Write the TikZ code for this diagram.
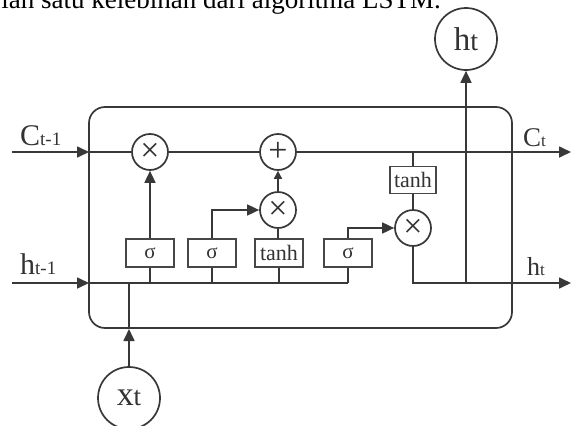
\documentclass[tikz,border=0pt]{standalone}
\usepackage{fontspec}
\setmainfont{Liberation Serif}
\usetikzlibrary{arrows.meta}
\newcommand\fs[1]{\fontsize{#1}{#1}\selectfont}
\begin{document}
\begin{tikzpicture}[x=1pt,y=-1pt,
  ln/.style={line width=1.7pt, draw=black!78},
  arr/.style={ln, -{Triangle[length=12pt,width=11pt]}},
  sarr/.style={ln, -{Triangle[length=8pt,width=8pt]}},
  op/.style={circle, ln, minimum size=36pt, inner sep=0pt, fill=white, font=\fs{34}, text=black!80},
  io/.style={circle, ln, minimum size=62pt, inner sep=0pt, fill=white, text=black!80},
  gate/.style={rectangle, draw=black!72, line width=1.3pt, minimum width=48pt, minimum height=28pt, inner sep=0pt, fill=white, text=black!80},
  lbl/.style={anchor=base west, inner sep=0pt, text=black!80},
]
\useasboundingbox (0,0) rectangle (571,426);
\clip (0,0) rectangle (571,426);
\node[anchor=base east, inner sep=0pt, font=\fs{27}] (cap) at (441,8.5) {lah satu kelebihan dari algoritma LSTM.};

% cell
\node[ln, rectangle, rounded corners=16pt, minimum width=423pt, minimum height=221pt, inner sep=0pt] (cell) at (300.5,217.5) {};

% operators
\node[op] (m1) at (150,152) {×};
\node[op] (pl) at (278,152) {+};
\node[op] (m2) at (278,210) {×};
\node[op] (m3) at (413,228) {×};

% gates
\node[gate, font=\fs{21}] (s1) at (150,253) {σ};
\node[gate, font=\fs{21}] (s2) at (212,253) {σ};
\node[gate, font=\fs{22}] (th) at (279,253) {tanh};
\node[gate, font=\fs{21}] (s3) at (348,253) {σ};
\node[gate, font=\fs{22}, minimum width=46pt, minimum height=27pt] (th2) at (413,180) {tanh};

% inputs / outputs
\node[io] (ht) at (466,39) {\fs{33}h{\fs{28}t}};
\node[io] (xt) at (129,398) {\fs{34}x{\fs{27}t}};

% coordinates
\coordinate (cin) at (12,152);
\coordinate (hin) at (12,283);
\coordinate (cout) at (571,152);
\coordinate (hout) at (571,283);
\coordinate (cl) at (89,152);
\coordinate (hl) at (89,283);
\coordinate (hr) at (348,283);
\coordinate (xb) at (129,329);
\coordinate (xh) at (129,283);
\coordinate (hj) at (466,283);
\coordinate (ct) at (413,152);

% cell state line
\draw[arr] (cin) -- (cl);
\draw[ln] (cl) -- (m1.west);
\draw[ln] (m1.east) -- (pl.west);
\draw[arr] (pl.east) -- (cout);

% hidden input line
\draw[arr] (hin) -- (hl);
\draw[ln] (hl) -- (hr);
\draw[arr] (xt.north) -- (xb);
\draw[ln] (xb) -- (xh);

% gate connections
\draw[ln] (s1.south) -- (s1.south |- hl);
\draw[ln] (s2.south) -- (s2.south |- hl);
\draw[ln] (th.south) -- (th.south |- hl);
\draw[ln] (s3.south) -- (hr);
\draw[arr] (s1.north) -- (m1.south);
\draw[arr] (s2.north) |- (m2.west);
\draw[ln] (th.north) -- (th.north -| m2.south) -- (m2.south);
\draw[sarr] (m2.north) -- (pl.south);
\draw[arr] (s3.north) |- (m3.west);
\draw[ln] (ct) -- (th2.north);
\draw[ln] (th2.south) -- (m3.north);
\draw[arr] (m3.south) |- (hout);
\draw[arr] (hj) -- (ht.south);

% labels
\node[lbl, font=\fs{30}] (lc1) at (20,145) {C{\fs{19}t-1}};
\node[lbl, font=\fs{30}] (lh1) at (20,274) {h{\fs{19}t-1}};
\node[lbl, font=\fs{27}] (lc) at (523,146) {C{\fs{17}t}};
\node[lbl, font=\fs{26}] (lh) at (527,275) {h{\fs{17}t}};
\end{tikzpicture}
\end{document}
